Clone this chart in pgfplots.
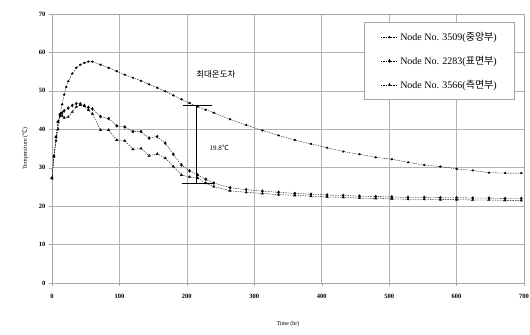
\documentclass[border=0pt]{standalone}
\usepackage{pgfplots}
\pgfplotsset{compat=1.18}
\usepackage{fontspec}
\setmainfont{Liberation Serif}
\newfontfamily\kr{Noto Sans CJK KR}
\begin{document}
\begin{tikzpicture}
\begin{axis}[
  scale only axis, width=472pt, height=269pt,
  xmin=0, xmax=700, ymin=0, ymax=70,
  xtick={0,100,...,700}, ytick={0,10,...,70},
  grid=major, major grid style={gray!60, line width=0.5pt},
  axis line style={gray!70},
  tick align=outside, tick pos=left, major tick length=3pt,
  tick style={gray!70},
  ticklabel style={font=\fontsize{6.5}{7}\selectfont\bfseries},
  xticklabel style={yshift=-5pt},
  /pgf/number format/assume math mode=true,
  xlabel={Time (hr)}, ylabel={Temperature ({\kr ℃})},
  label style={font=\fontsize{6}{6}\selectfont},
  xlabel style={yshift=-16pt},
  ylabel style={yshift=4pt},
  legend style={at={(0.981,0.970)}, anchor=north east, draw=gray!70, line width=0.6pt,
    font=\fontsize{10}{10}\selectfont, row sep=10pt, inner xsep=16pt, inner ysep=8pt},
  legend image post style={line width=0.4pt},
  legend cell align=left,
  every axis plot/.append style={line width=0.35pt, dash pattern=on 1.5pt off 1pt},
  every mark/.append style={solid},
]
\addplot[black, mark=*, mark size=1.1pt] coordinates {
(0,27.3)(3,33)(6,37)(9,40)(12,44)(15,46.5)(18,49)(21,51)(24,52.5)(30,54.5)(36,56)(42,56.8)(48,57.3)(54,57.6)(60,57.6)
(72,56.8)(84,56)(96,55.1)(108,54.2)(120,53.4)(132,52.6)(144,51.7)(156,50.8)(168,49.9)(180,48.8)(192,47.8)(204,46.8)(216,45.9)(228,45.1)(240,44.3)
(264,42.6)(288,41.1)(312,39.7)(336,38.4)(360,37.2)(384,36.2)(408,35.2)(432,34.2)(456,33.5)(480,32.7)(504,32.2)(528,31.4)(552,30.7)(576,30.3)(600,29.7)(624,29.3)(648,28.7)(672,28.6)(696,28.6)
};
\addlegendentry{Node No. 3509({\kr 중앙부})}
\addplot[black, mark=diamond*, mark size=1.6pt] coordinates {
(0,27.3)(3,33)(6,38)(9,42)(12,43.5)(15,44.3)(18,44.8)(24,45.5)(30,46.2)(36,46.7)(42,46.6)(48,46.2)(54,45.7)(60,45.3)
(72,43.3)(84,42.8)(96,40.9)(108,40.6)(120,39.4)(132,39.4)(144,37.7)(156,38.1)(168,36.4)(180,33.5)(192,30.7)(204,29.2)(216,28.1)(228,27)(240,26.0)
(264,24.8)(288,24.3)(312,23.9)(336,23.6)(360,23.3)(384,23.1)(408,22.9)(432,22.8)(456,22.6)(480,22.5)(504,22.4)(528,22.3)(552,22.3)(576,22.2)(600,22.2)(624,22.1)(648,22.1)(672,22.0)(696,22.0)
};
\addlegendentry{Node No. 2283({\kr 표면부})}
\addplot[black, mark=triangle*, mark size=1.5pt] coordinates {
(0,27.3)(3,33)(6,38)(9,42)(12,44)(15,43.5)(18,43)(24,43.2)(30,44.5)(36,45.8)(42,46.3)(48,46)(54,45)(60,44)
(72,39.8)(84,39.8)(96,37.2)(108,37)(120,34.8)(132,35)(144,33.1)(156,33.6)(168,32.5)(180,30.3)(192,28.1)(204,27.6)(216,27.3)(228,26)(240,25.1)
(264,24.0)(288,23.6)(312,23.3)(336,23.0)(360,22.8)(384,22.6)(408,22.4)(432,22.3)(456,22.1)(480,22.0)(504,21.9)(528,21.8)(552,21.8)(576,21.7)(600,21.7)(624,21.6)(648,21.6)(672,21.5)(696,21.5)
};
\addlegendentry{Node No. 3566({\kr 측면부})}
\addplot[black, line width=1pt, solid, forget plot] coordinates {(194,46.3)(238,46.3)};
\addplot[black, line width=1pt, solid, forget plot] coordinates {(193,25.8)(240,25.8)};
\addplot[black, line width=1pt, solid, forget plot] coordinates {(215,46.3)(215,25.8)};
\node[font=\fontsize{8.5}{8.5}\selectfont\kr] at (axis cs:243,54.3) {최대온도차};
\node[font=\fontsize{7}{7}\selectfont] at (axis cs:248,35.2) {19.8{\kr ℃}};
\coordinate (ll) at (rel axis cs:0,0);
\coordinate (ur) at (rel axis cs:1,1);
\end{axis}
\pgfresetboundingbox
\path[use as bounding box] ([shift={(-52pt,-52pt)}]ll) rectangle ([shift={(6pt,14pt)}]ur);
\end{tikzpicture}
\end{document}
